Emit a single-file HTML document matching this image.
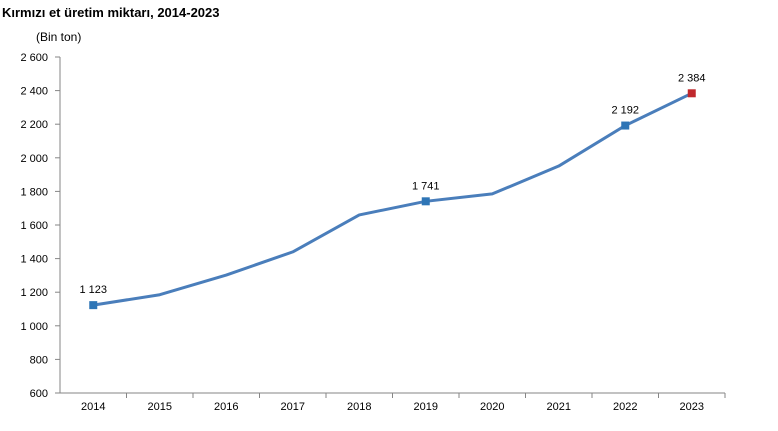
<!DOCTYPE html>
<html><head><meta charset="utf-8"><style>
body{margin:0;background:#fff;width:778px;height:426px;overflow:hidden}
svg text{font-family:"Liberation Sans",Arial,sans-serif;fill:#000}
</style></head><body>
<svg id="chart" width="778" height="426" xmlns="http://www.w3.org/2000/svg">
<text x="2" y="17" font-size="13" font-weight="bold">Kırmızı et üretim miktarı, 2014-2023</text>
<text x="36" y="41" font-size="12">(Bin ton)</text>
<g id="axes"></g><g id="series"></g>
</svg>
<script>
const categories=["2014","2015","2016","2017","2018","2019","2020","2021","2022","2023"];
const values=[1123,1185,1302,1440,1660,1741,1785,1951,2192,2384];
const labeled=[0,5,8,9];
const yTicks=[600,800,1000,1200,1400,1600,1800,2000,2200,2400,2600];
const NS="http://www.w3.org/2000/svg";
const x0=60,x1=725,yB=393,yT=57,yMin=600,yMax=2600;
const bw=(x1-x0)/categories.length;
const xs=i=>x0+bw*(i+0.5);
const ys=v=>yB-(v-yMin)/(yMax-yMin)*(yB-yT);
const fmt=v=>{const s=String(v);return s.length>3?s.slice(0,-3)+" "+s.slice(-3):s;};
function mk(tag,attrs,parent){const e=document.createElementNS(NS,tag);for(const k in attrs)e.setAttribute(k,attrs[k]);parent.appendChild(e);return e;}
const ax=document.getElementById("axes"),sr=document.getElementById("series");
let l=mk("line",{x1:x0,y1:yT,x2:x0,y2:yB,stroke:"#868686"},ax);


l=mk("line",{x1:x0,y1:yB,x2:x1,y2:yB,stroke:"#868686"},ax);


yTicks.forEach(t=>{
 const y=ys(t);
 const tk=mk("line",{x1:x0-5,y1:y,x2:x0,y2:y,stroke:"#868686"},ax);
 
 
 const tx=mk("text",{x:x0-12,y:y+4,"font-size":"11","text-anchor":"end"},ax);
 tx.textContent=fmt(t);
 
 
});
categories.forEach((c,i)=>{
 const xt=x0+bw*(i+1);
 const tk=mk("line",{x1:xt,y1:yB,x2:xt,y2:yB+5,stroke:"#868686"},ax);
 
 
 const tx=mk("text",{x:xs(i),y:yB+17,"font-size":"11","text-anchor":"middle"},ax);
 tx.textContent=c;
 
 
});
const p=mk("polyline",{points:values.map((v,i)=>xs(i)+","+ys(v)).join(" "),fill:"none",stroke:"#4a7ebb","stroke-width":"3","stroke-linejoin":"round"},sr);


labeled.forEach(i=>{
 const x=xs(i),y=ys(values[i]);
 const m=mk("rect",{x:x-4,y:y-4,width:8,height:8,fill:i===categories.length-1?"#c0282d":"#2e75b6"},sr);
 
 
 const t=mk("text",{x:x,y:y-12,"font-size":"11","text-anchor":"middle"},sr);
 t.textContent=fmt(values[i]);
 
 
});
</script>
</body></html>
